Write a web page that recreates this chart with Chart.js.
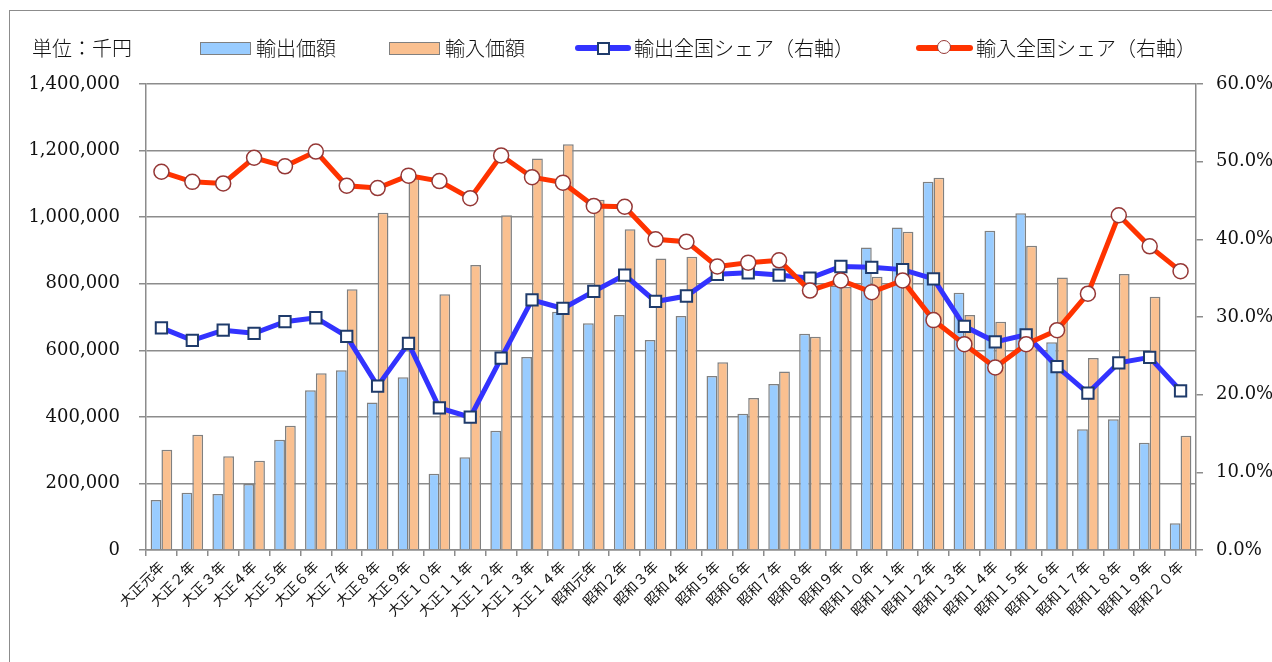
<!DOCTYPE html>
<html>
<head>
<meta charset="utf-8">
<script src="https://cdn.jsdelivr.net/npm/chart.js@4.4.1/dist/chart.umd.min.js"></script>
<style>
  html, body { margin: 0; padding: 0; background: #fff; overflow: hidden; }
  #wrap { position: relative; width: 1272px; height: 662px; }
  #frame { position: absolute; left: 9px; top: 10px; width: 1400px; height: 800px; border: 1.5px solid #8c8c8c; box-sizing: border-box; }
  canvas { position: absolute; left: 0; top: 0; }
  .lg { position: absolute; top: 36px; height: 24px; line-height: 24px; font-family: "Noto Sans CJK JP", sans-serif; font-weight: 300; font-size: 20px; color: #111; white-space: nowrap; }
  .box { position: absolute; top: 42px; height: 11px; border: 1.5px solid #808080; }
  .ln { position: absolute; top: 45px; height: 6px; border-radius: 3px; }
  .mk { position: absolute; background: #fff; }
</style>
</head>
<body>
<div id="wrap">
  <div id="frame"></div>
  <canvas id="c" width="1272" height="662"></canvas>
  <div class="lg" style="left:32px;">単位：千円</div>
  <div class="box" style="left:200px;width:49px;background:#99CCFF;"></div>
  <div class="lg" style="left:256px;">輸出価額</div>
  <div class="box" style="left:389px;width:49px;background:#FAC090;"></div>
  <div class="lg" style="left:445px;">輸入価額</div>
  <div class="ln" style="left:575px;width:56px;background:#3333FF;"></div>
  <div class="mk" style="left:597px;top:42px;width:9px;height:9px;border:2px solid #1F3B6B;"></div>
  <div class="lg" style="left:634px;">輸出全国シェア（右軸）</div>
  <div class="ln" style="left:916px;width:57px;background:#FF3300;"></div>
  <div class="mk" style="left:937px;top:40px;width:12px;height:12px;border:1.5px solid #953735;border-radius:50%;"></div>
  <div class="lg" style="left:976px;">輸入全国シェア（右軸）</div>
</div>
<script>
const categories = [
  "大正元年","大正２年","大正３年","大正４年","大正５年","大正６年","大正７年",
  "大正８年","大正９年","大正１０年","大正１１年","大正１２年","大正１３年","大正１４年",
  "昭和元年","昭和２年","昭和３年","昭和４年","昭和５年","昭和６年","昭和７年",
  "昭和８年","昭和９年","昭和１０年","昭和１１年","昭和１２年","昭和１３年","昭和１４年",
  "昭和１５年","昭和１６年","昭和１７年","昭和１８年","昭和１９年","昭和２０年"
];
const exportValues = [
  150000,172000,168000,198000,331000,480000,540000,443000,519000,229000,279000,358000,580000,716000,
  681000,706000,631000,703000,523000,409000,499000,650000,795000,909000,969000,1106000,773000,959000,
  1012000,624000,363000,393000,322000,80000
];
const importValues = [
  301000,346000,282000,268000,373000,531000,783000,1013000,1117000,768000,856000,1006000,1176000,1219000,
  1052000,964000,876000,881000,564000,457000,536000,641000,790000,821000,956000,1118000,706000,686000,
  914000,819000,577000,829000,761000,343000
];
const exportShare = [
  28.6,27.0,28.3,27.9,29.4,29.9,27.5,21.1,26.6,18.3,17.1,24.7,32.2,31.1,
  33.3,35.4,32.0,32.7,35.5,35.7,35.4,35.0,36.5,36.4,36.1,34.9,28.8,26.8,
  27.7,23.6,20.2,24.1,24.8,20.5
];
const importShare = [
  48.7,47.4,47.2,50.5,49.4,51.3,46.9,46.6,48.2,47.5,45.3,50.8,48.0,47.3,
  44.3,44.2,40.0,39.7,36.5,37.0,37.3,33.4,34.7,33.2,34.7,29.6,26.5,23.5,
  26.5,28.3,33.0,43.1,39.1,35.9
];
const leftTicks = { min: 0, max: 1400000, step: 200000 };
const rightTicks = { min: 0, max: 60, step: 10 };

const gridColor = '#8c8c8c';
const serif = "'DejaVu Serif', serif";

new Chart(document.getElementById('c'), {
  type: 'bar',
  data: {
    labels: categories,
    datasets: [
      {
        type: 'line', label: '輸入全国シェア（右軸）', data: importShare, yAxisID: 'y1', order: 1,
        borderColor: '#FF3300', borderWidth: 5, tension: 0,
        pointStyle: 'circle', pointRadius: 7.5, pointBackgroundColor: '#fff',
        pointBorderColor: '#953735', pointBorderWidth: 1.5
      },
      {
        type: 'line', label: '輸出全国シェア（右軸）', data: exportShare, yAxisID: 'y1', order: 2,
        borderColor: '#3333FF', borderWidth: 5, tension: 0,
        pointStyle: 'rect', pointRadius: 8, pointBackgroundColor: '#fff',
        pointBorderColor: '#1F3B6B', pointBorderWidth: 2
      },
      {
        label: '輸出価額', data: exportValues, yAxisID: 'y', order: 3,
        backgroundColor: '#99CCFF', borderColor: '#808080', borderWidth: 1.5,
        barPercentage: 1.0, categoryPercentage: 0.70
      },
      {
        label: '輸入価額', data: importValues, yAxisID: 'y', order: 4,
        backgroundColor: '#FAC090', borderColor: '#808080', borderWidth: 1.5,
        barPercentage: 1.0, categoryPercentage: 0.70
      }
    ]
  },
  options: {
    responsive: false,
    animation: false,
    layout: { padding: { top: 84, left: 0, right: 0, bottom: 0 } },
    plugins: { legend: { display: false }, tooltip: { enabled: false } },
    scales: {
      x: {
        grid: { offset: true, drawOnChartArea: false, drawTicks: true, tickLength: 6, color: gridColor, lineWidth: 1.5 },
        border: { color: gridColor, width: 1.5 },
        ticks: {
          autoSkip: false, maxRotation: 45, minRotation: 45, padding: 2,
          color: '#111', font: { family: "'Noto Sans CJK JP', sans-serif", size: 14 }
        },
        afterFit: s => { s.height = 112; }
      },
      y: {
        position: 'left', min: leftTicks.min, max: leftTicks.max,
        grid: { color: gridColor, lineWidth: 1.5, tickLength: 7 },
        border: { color: gridColor, width: 1.5 },
        ticks: {
          stepSize: leftTicks.step, padding: 19, color: '#111',
          font: { family: serif, size: 18 },
          callback: v => Number(v).toLocaleString('en-US')
        },
        afterFit: s => { s.width = 146; }
      },
      y1: {
        position: 'right', min: rightTicks.min, max: rightTicks.max,
        grid: { drawOnChartArea: false, color: gridColor, lineWidth: 1.5, tickLength: 7 },
        border: { color: gridColor, width: 1.5 },
        ticks: {
          stepSize: rightTicks.step, padding: 13, color: '#111',
          font: { family: serif, size: 18 },
          callback: v => Number(v).toFixed(1) + '%'
        },
        afterFit: s => { s.width = 76; }
      }
    }
  }
});
</script>
</body>
</html>
